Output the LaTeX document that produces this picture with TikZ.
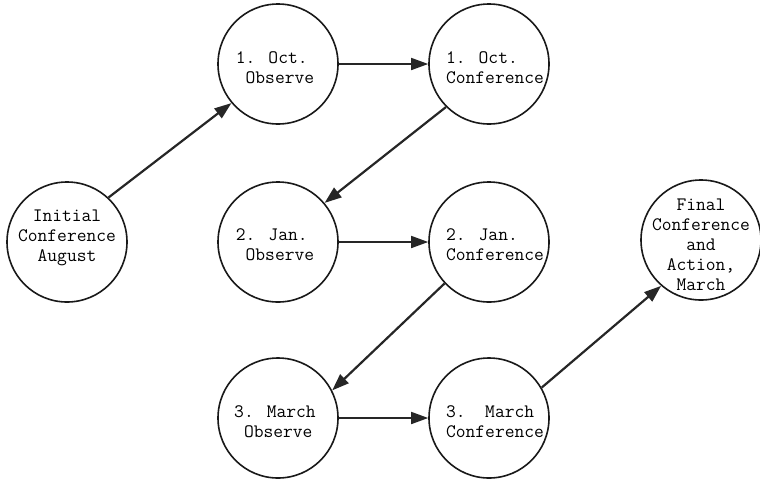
\documentclass[tikz,border=0pt]{standalone}
\usetikzlibrary{arrows.meta}
\begin{document}
\begin{tikzpicture}[x=1pt,y=-1pt,
  stage/.style={draw=black!90, line width=1.6pt, circle, minimum size=120pt, inner sep=0pt},
  txt/.style={font=\fontsize{19}{20}\selectfont\ttfamily, inner sep=0pt, text=black},
  flow/.style={draw=black!85, line width=2.2pt, -{Triangle[length=17pt,width=12pt]}},
  hflow/.style={draw=black!85, line width=1.6pt, -{Triangle[length=17pt,width=12pt]}}]
\useasboundingbox (0,0) rectangle (760,480);
\node[stage] (init) at (67,242) {};
\node[stage] (o1) at (278,64) {};
\node[stage] (c1) at (489,64) {};
\node[stage] (o2) at (278,242) {};
\node[stage] (c2) at (489,242) {};
\node[stage] (o3) at (278,418) {};
\node[stage] (c3) at (489,418) {};
\node[stage] (fin) at (701,240) {};
\node[txt, align=center] (tinit) at (67,238) {Initial\\Conference\\August};
\node[txt, align=left] (to1) at (275,68) {1. Oct.\\\ Observe};
\node[txt, align=left] (tc1) at (495,68) {1. Oct.\\Conference};
\node[txt, align=left] (to2) at (275,245) {2. Jan.\\\ Observe};
\node[txt, align=left] (tc2) at (495,245) {2. Jan.\\Conference};
\node[txt, align=left] (to3) at (275,422) {3. March\\\ Observe};
\node[txt, align=left] (tc3) at (495,422) {3.\ \ March\\Conference};
\node[txt, align=center] (tfin) at (701,245) {Final\\Conference\\and\\Action,\\March};
\draw[flow] (init.47) -- (o1.220);
\draw[hflow] (o1) -- (c1);
\draw[flow] (c1.225) -- (o2.40);
\draw[hflow] (o2) -- (c2);
\draw[flow] (c2.223) -- (o3.27);
\draw[hflow] (o3) -- (c3);
\draw[flow] (c3.30) -- (fin.229);
\end{tikzpicture}
\end{document}
